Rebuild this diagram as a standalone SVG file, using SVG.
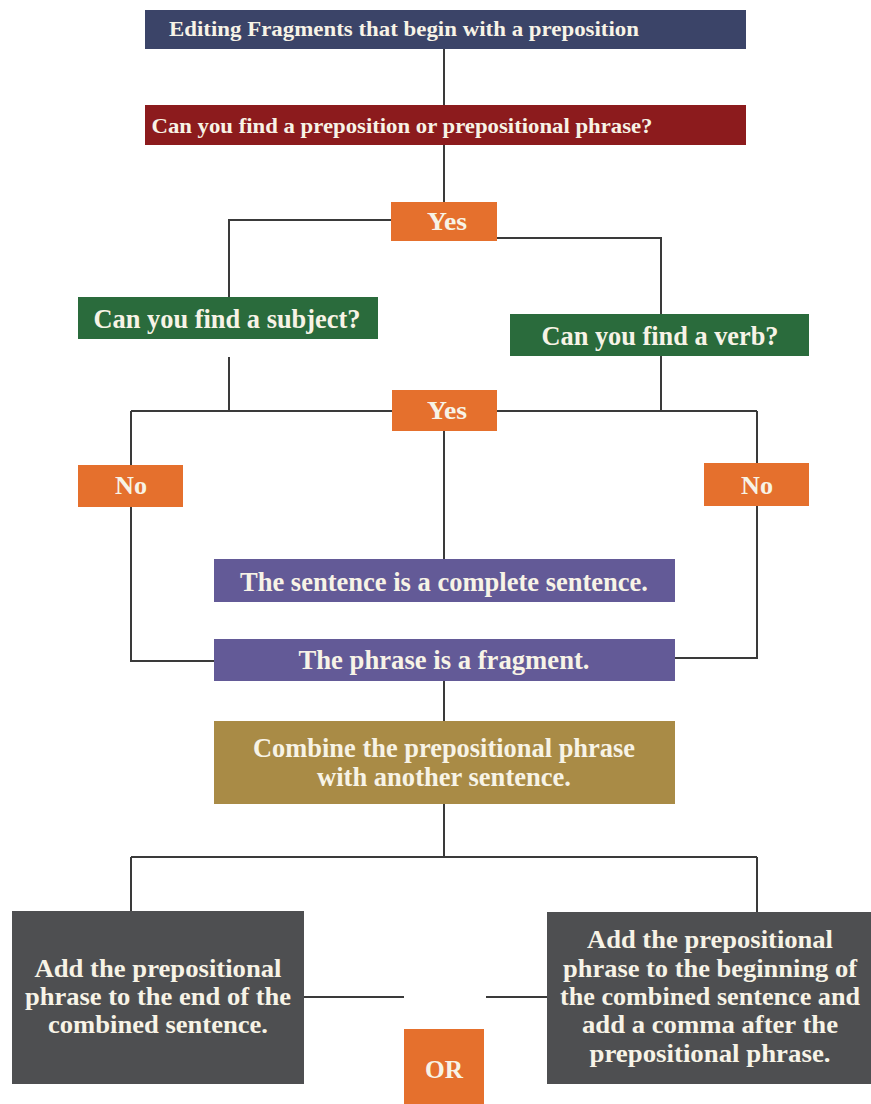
<svg xmlns="http://www.w3.org/2000/svg" width="871" height="1104" viewBox="0 0 871 1104">
<style>
.t{font-family:"Liberation Serif","Times New Roman",serif;font-weight:bold;fill:#f7f3e6;text-anchor:middle}
.ln{stroke:#3a3a3a;stroke-width:2;fill:none}
</style>
<rect width="871" height="1104" fill="#ffffff"/>
<g id="connectors">
<path class="ln" d="M444 49V105M444 145V203"/>
<path class="ln" d="M391 220H229V297"/>
<path class="ln" d="M497 238H661V314"/>
<path class="ln" d="M229 357V411M661 356V411M131 411H392M497 411H757"/>
<path class="ln" d="M131 411V465M757 411V463"/>
<path class="ln" d="M131 507V661H214M757 506V658H675"/>
<path class="ln" d="M444 431V559"/>
<path class="ln" d="M444 681V721M444 804V857M131 857H757M131 857V911M757 857V912"/>
<path class="ln" d="M304 997H404M486 997H547"/>
</g>
<g id="title"><rect x="145" y="10" width="601" height="39" fill="#3b4468"/><text class="t" x="404" y="36" font-size="21" textLength="470" lengthAdjust="spacingAndGlyphs">Editing Fragments that begin with a preposition</text></g>
<g id="q1"><rect x="145" y="105" width="601" height="40" fill="#8c1b1d"/><text class="t" x="402" y="133" font-size="21" textLength="501" lengthAdjust="spacingAndGlyphs">Can you find a preposition or prepositional phrase?</text></g>
<g id="yes1"><rect x="391" y="202" width="106" height="39" fill="#e5702d"/><text class="t" x="447" y="230" font-size="25" textLength="40" lengthAdjust="spacingAndGlyphs">Yes</text></g>
<g id="subject"><rect x="78" y="297" width="300" height="42" fill="#2a6b3c"/><text class="t" x="227" y="328" font-size="27" textLength="267" lengthAdjust="spacingAndGlyphs">Can you find a subject?</text></g>
<g id="verb"><rect x="510" y="314" width="299" height="42" fill="#2a6b3c"/><text class="t" x="660" y="345" font-size="27" textLength="237" lengthAdjust="spacingAndGlyphs">Can you find a verb?</text></g>
<g id="yes2"><rect x="392" y="390" width="105" height="41" fill="#e5702d"/><text class="t" x="447" y="419" font-size="25" textLength="40" lengthAdjust="spacingAndGlyphs">Yes</text></g>
<g id="noLeft"><rect x="78" y="465" width="105" height="42" fill="#e5702d"/><text class="t" x="131" y="494" font-size="25" textLength="32" lengthAdjust="spacingAndGlyphs">No</text></g>
<g id="noRight"><rect x="704" y="463" width="105" height="43" fill="#e5702d"/><text class="t" x="757" y="494" font-size="25" textLength="32" lengthAdjust="spacingAndGlyphs">No</text></g>
<g id="complete"><rect x="214" y="559" width="461" height="43" fill="#635a97"/><text class="t" x="444" y="591" font-size="27" textLength="408" lengthAdjust="spacingAndGlyphs">The sentence is a complete sentence.</text></g>
<g id="fragment"><rect x="214" y="639" width="461" height="42" fill="#635a97"/><text class="t" x="444" y="669" font-size="27" textLength="291" lengthAdjust="spacingAndGlyphs">The phrase is a fragment.</text></g>
<g id="combine"><rect x="214" y="721" width="461" height="83" fill="#a98b46"/><text class="t" x="444" y="757" font-size="27" textLength="382" lengthAdjust="spacingAndGlyphs">Combine the prepositional phrase</text><text class="t" x="444" y="786" font-size="27" textLength="254" lengthAdjust="spacingAndGlyphs">with another sentence.</text></g>
<g id="endOption"><rect x="12" y="911" width="292" height="173" fill="#4e4f51"/>
<text class="t" x="158" y="977" font-size="26" textLength="247" lengthAdjust="spacingAndGlyphs">Add the prepositional</text>
<text class="t" x="158" y="1005" font-size="26" textLength="266" lengthAdjust="spacingAndGlyphs">phrase to the end of the</text>
<text class="t" x="158" y="1033" font-size="26" textLength="220" lengthAdjust="spacingAndGlyphs">combined sentence.</text></g>
<g id="beginOption"><rect x="547" y="912" width="324" height="172" fill="#4e4f51"/>
<text class="t" x="710" y="948" font-size="25" textLength="246" lengthAdjust="spacingAndGlyphs">Add the prepositional</text>
<text class="t" x="710" y="977" font-size="25" textLength="294" lengthAdjust="spacingAndGlyphs">phrase to the beginning of</text>
<text class="t" x="710" y="1005" font-size="25" textLength="300" lengthAdjust="spacingAndGlyphs">the combined sentence and</text>
<text class="t" x="710" y="1033" font-size="25" textLength="256" lengthAdjust="spacingAndGlyphs">add a comma after the</text>
<text class="t" x="710" y="1062" font-size="25" textLength="241" lengthAdjust="spacingAndGlyphs">prepositional phrase.</text></g>
<g id="or"><rect x="404" y="1029" width="80" height="75" fill="#e5702d"/><text class="t" x="444" y="1078" font-size="26" textLength="38" lengthAdjust="spacingAndGlyphs">OR</text></g>
</svg>
